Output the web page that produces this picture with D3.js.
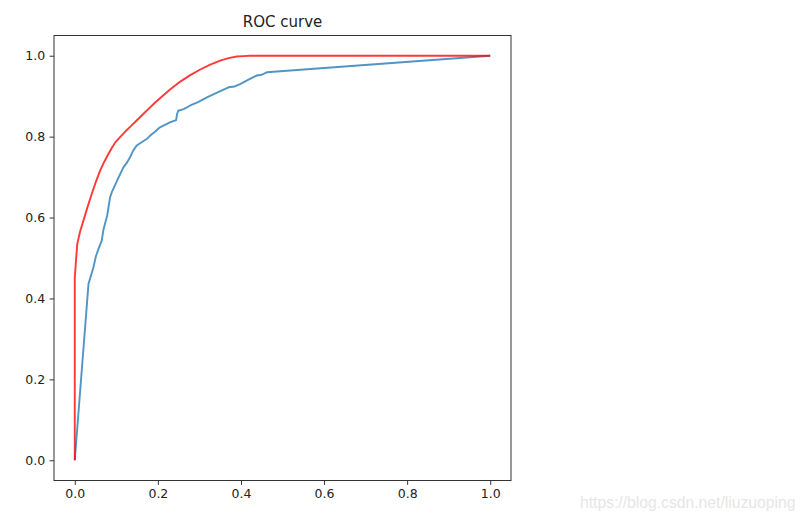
<!DOCTYPE html>
<html><head><meta charset="utf-8">
<script src="https://cdn.jsdelivr.net/npm/d3@7"></script>
<style>body{margin:0;background:#fff;} text{font-family:"DejaVu Sans",sans-serif;}</style>
</head><body><svg id="c" width="806" height="522"></svg>
<script>
const title = "ROC curve";
const xTicks = [0.0, 0.2, 0.4, 0.6, 0.8, 1.0];
const yTicks = [0.0, 0.2, 0.4, 0.6, 0.8, 1.0];
const watermark = "https://blog.csdn.net/liuzuoping";
// red (smooth) curve
const redFpr = [0, 0, 0.003, 0.006, 0.013, 0.021, 0.031, 0.041, 0.051, 0.061, 0.071, 0.081, 0.089, 0.097, 0.109, 0.121, 0.135, 0.149, 0.163, 0.177, 0.191, 0.205, 0.23, 0.254, 0.278, 0.302, 0.326, 0.35, 0.37, 0.39, 0.405, 0.422, 1.0];
const redTpr = [0, 0.45, 0.494, 0.535, 0.566, 0.593, 0.627, 0.659, 0.689, 0.716, 0.738, 0.757, 0.772, 0.785, 0.799, 0.812, 0.826, 0.840, 0.854, 0.868, 0.882, 0.895, 0.917, 0.936, 0.952, 0.966, 0.978, 0.988, 0.994, 0.998, 0.999, 1.0, 1.0];
// blue (stepped) curve
const blueFpr = [0, 0.033, 0.045, 0.051, 0.058, 0.065, 0.069, 0.078, 0.085, 0.089, 0.103, 0.117, 0.125, 0.133, 0.141, 0.149, 0.161, 0.173, 0.181, 0.193, 0.205, 0.229, 0.244, 0.246, 0.249, 0.262, 0.278, 0.298, 0.318, 0.345, 0.37, 0.385, 0.398, 0.418, 0.438, 0.45, 0.462, 1.0];
const blueTpr = [0, 0.436, 0.477, 0.505, 0.525, 0.543, 0.570, 0.605, 0.650, 0.662, 0.694, 0.724, 0.735, 0.749, 0.766, 0.778, 0.786, 0.794, 0.802, 0.812, 0.823, 0.835, 0.841, 0.855, 0.864, 0.868, 0.877, 0.886, 0.897, 0.910, 0.922, 0.924, 0.930, 0.941, 0.951, 0.953, 0.959, 1.0];

const svg = d3.select("#c");
const L = 54, R = 511, T = 35.5, B = 480.5;
const x = d3.scaleLinear().domain([-0.05, 1.05]).range([L, R]);
const y = d3.scaleLinear().domain([-0.05, 1.05]).range([B, T]);

const line = d3.line().x(d => x(d[0])).y(d => y(d[1]));
const blue = blueFpr.map((v, i) => [v, blueTpr[i]]);
const red = redFpr.map((v, i) => [v, redTpr[i]]);
svg.append("path").attr("d", line(blue)).attr("fill", "none").attr("stroke", "#1f77b4").attr("stroke-opacity", 0.78).attr("stroke-width", 1.9).attr("stroke-linejoin", "round");
svg.append("path").attr("d", line(red)).attr("fill", "none").attr("stroke", "red").attr("stroke-opacity", 0.78).attr("stroke-width", 1.9).attr("stroke-linejoin", "round");

const fmt = d3.format(".1f");
const gx = svg.append("g").attr("transform", `translate(0,${B})`)
  .call(d3.axisBottom(x).tickValues(xTicks).tickFormat(fmt).tickSizeOuter(0).tickSize(4.4).tickPadding(4.4));
const gy = svg.append("g").attr("transform", `translate(${L},0)`)
  .call(d3.axisLeft(y).tickValues(yTicks).tickFormat(fmt).tickSizeOuter(0).tickSize(4.4).tickPadding(4.4));
[gx, gy].forEach(g => {
  g.select(".domain").remove();
  g.selectAll("line").attr("stroke", "#333").attr("stroke-width", 1);
  g.selectAll("text").attr("fill", "#222").style("font-size", "12.5px").style("font-family", "DejaVu Sans");
});
svg.append("rect").attr("x", L).attr("y", T).attr("width", R - L).attr("height", B - T)
  .attr("fill", "none").attr("stroke", "#333").attr("stroke-width", 1);

svg.append("text").attr("x", (L + R) / 2).attr("y", 27).attr("text-anchor", "middle")
  .style("font-size", "15px").attr("fill", "#222").text(title);

svg.append("text").attr("x", 580).attr("y", 508).style("font-family", "Liberation Sans, Arial")
  .style("font-size", "15.7px").attr("fill", "#e6e6e6").text(watermark);
</script></body></html>
